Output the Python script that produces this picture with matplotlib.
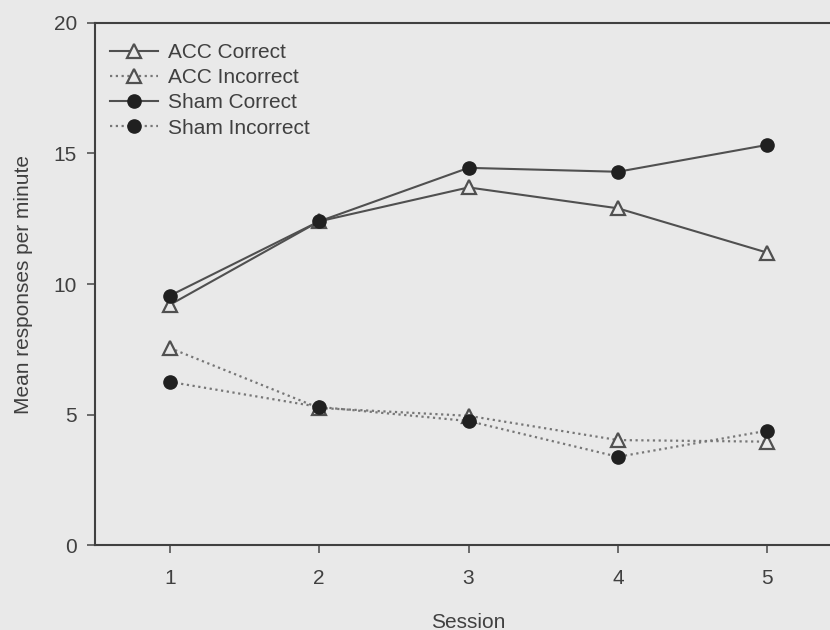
import matplotlib.pyplot as plt

plt.rcParams["font.family"] = ["Liberation Sans", "DejaVu Sans"]

sessions = [1, 2, 3, 4, 5]
acc_correct = [9.2, 12.4, 13.7, 12.9, 11.2]
acc_incorrect = [7.55, 5.25, 4.95, 4.02, 3.96]
sham_correct = [9.55, 12.4, 14.45, 14.3, 15.33]
sham_incorrect = [6.25, 5.29, 4.75, 3.38, 4.38]

bg = "#e9e9e9"
line_col = "#505050"
dot_col = "#777777"
mark_col = "#202020"
text_col = "#404040"

fig = plt.figure(figsize=(8.3, 6.3), dpi=100, facecolor=bg)
ax = fig.add_axes([0.1145, 0.1349, 0.9, 0.8286])
ax.set_facecolor(bg)

dotted = (0, (1, 1.6))

ax.plot(sessions, acc_correct, color=line_col, lw=1.5, marker="^",
        ms=10.5, mfc=bg, mec=line_col, mew=1.6, label="ACC Correct", zorder=3)
ax.plot(sessions, acc_incorrect, color=dot_col, lw=1.6, ls=dotted, marker="^",
        ms=10.5, mfc=bg, mec=line_col, mew=1.6, label="ACC Incorrect", zorder=3)
ax.plot(sessions, sham_correct, color=line_col, lw=1.5, marker="o",
        ms=9.5, mfc=mark_col, mec=mark_col, label="Sham Correct", zorder=4)
ax.plot(sessions, sham_incorrect, color=dot_col, lw=1.6, ls=dotted, marker="o",
        ms=9.5, mfc=mark_col, mec=mark_col, label="Sham Incorrect", zorder=4)

ax.set_xlim(0.5, 5.5)
ax.set_ylim(0, 20)
ax.set_xticks(sessions)
ax.set_yticks([0, 5, 10, 15, 20])

for side in ["left", "bottom", "top"]:
    ax.spines[side].set_color("#404040")
    ax.spines[side].set_linewidth(1.5)
ax.spines["right"].set_visible(False)

ax.tick_params(axis="both", direction="out", length=6, width=1.2,
               colors="#555555", labelcolor=text_col, labelsize=15)
ax.tick_params(axis="x", pad=11)
ax.tick_params(axis="y", pad=7)

ax.set_xlabel("Session", fontsize=15, color=text_col, labelpad=18)
ax.set_ylabel("Mean responses per minute", fontsize=15, color=text_col,
              labelpad=15)

leg = ax.legend(loc="upper left", bbox_to_anchor=(0.0, 0.99), frameon=False,
                fontsize=15, handlelength=2.3, labelspacing=0.3,
                handletextpad=0.5, numpoints=1, borderaxespad=0.3)
for t in leg.get_texts():
    t.set_color(text_col)

fig.savefig("out.png", dpi=100, facecolor=bg)
